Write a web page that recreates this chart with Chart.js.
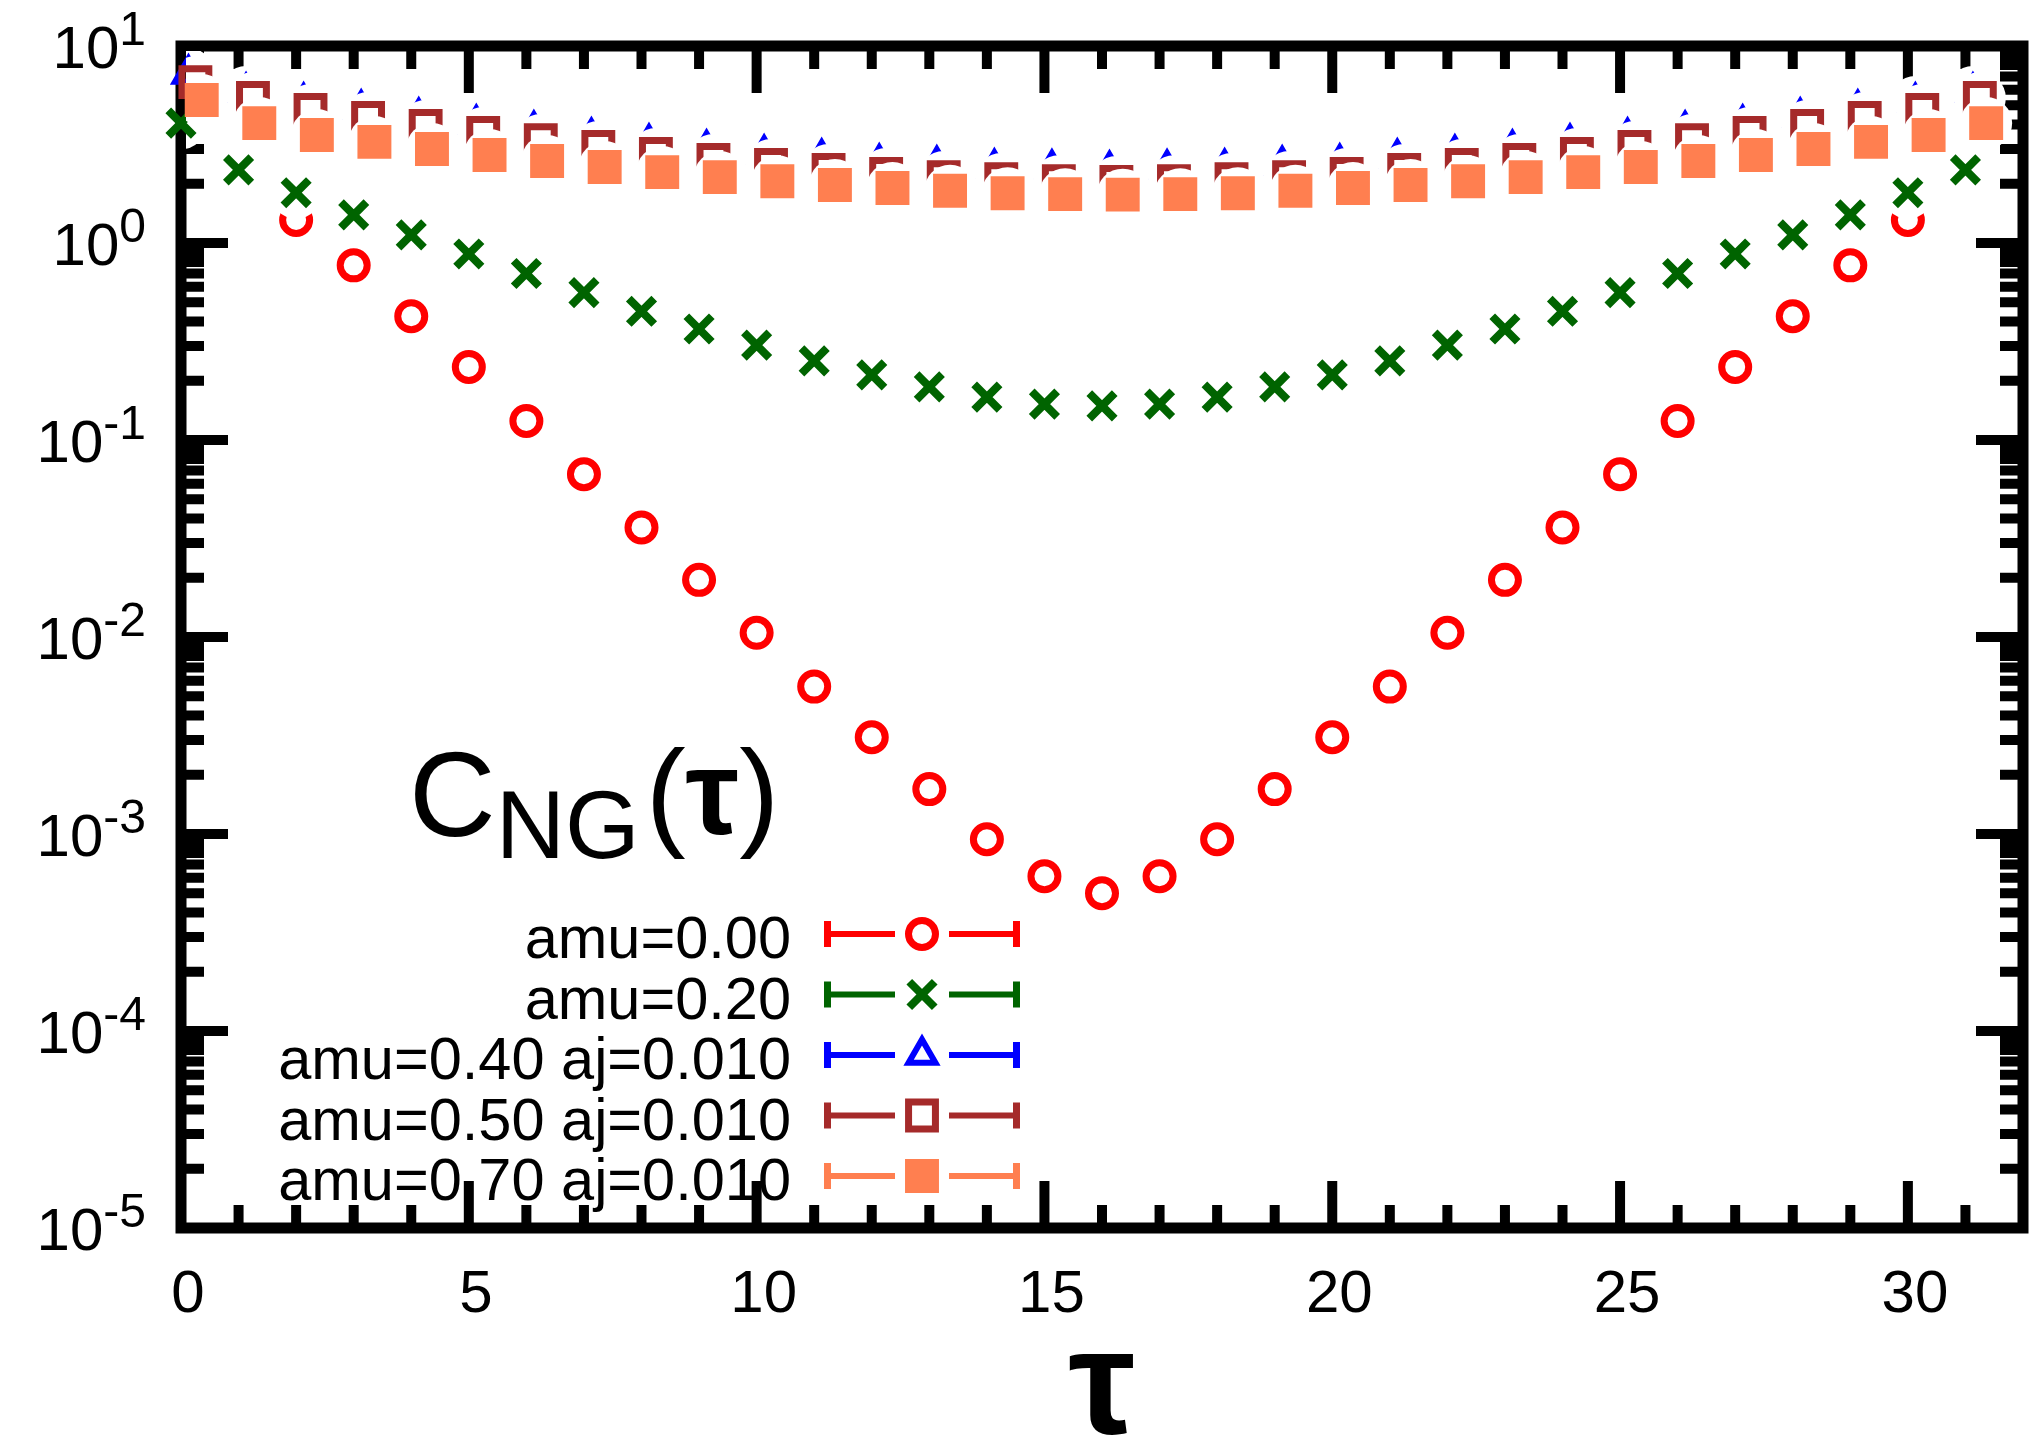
<!DOCTYPE html>
<html lang="en">
<head>
    <meta charset="UTF-8">
    <title>C_NG(tau)</title>
    <script src="https://cdn.jsdelivr.net/npm/chart.js"></script>
    <style>
        html, body { margin: 0; padding: 0; background: #fff; }
        #chartBox { width: 2029px; height: 1435px; }
    </style>
</head>
<body>
    <div id="chartBox">
        <canvas id="corrChart" width="2029" height="1435"></canvas>
    </div>

    <script>
        const FONT = '"Liberation Sans", Arial, Helvetica, sans-serif';

        // time slices
        const tau = [0, 1, 2, 3, 4, 5, 6, 7, 8, 9, 10, 11, 12, 13, 14, 15,
                     16, 17, 18, 19, 20, 21, 22, 23, 24, 25, 26, 27, 28, 29, 30, 31];

        // C_NG(tau) for each mass (null = not plotted)
        const cAmu000 = [null, null, 1.31, 0.77, 0.425, 0.235, 0.125, 0.067, 0.036, 0.0195, 0.0105, 0.0056,
                         0.0031, 0.00169, 0.00094, 0.00061, 0.00050, 0.00061, 0.00094, 0.00169, 0.0031,
                         0.0056, 0.0105, 0.0195, 0.036, 0.067, 0.125, 0.235, 0.425, 0.77, 1.31, null];
        const cAmu020 = [4.06, 2.35, 1.80, 1.39, 1.10, 0.88, 0.70, 0.56, 0.45, 0.366, 0.303, 0.252,
                         0.214, 0.186, 0.165, 0.152, 0.149, 0.152, 0.165, 0.186, 0.214, 0.252, 0.303,
                         0.366, 0.45, 0.56, 0.70, 0.88, 1.10, 1.39, 1.80, 2.35];
        const cAmu040 = [7.2, 5.84, 5.20, 4.79, 4.36, 4.02, 3.75, 3.45, 3.22, 3.00, 2.83, 2.70,
                         2.55, 2.49, 2.40, 2.38, 2.35, 2.38, 2.40, 2.49, 2.55, 2.70, 2.83, 3.00,
                         3.22, 3.45, 3.75, 4.02, 4.36, 4.79, 5.20, 5.84];
        const cAmu050 = [6.56, 5.45, 4.73, 4.31, 3.93, 3.62, 3.33, 3.07, 2.83, 2.64, 2.49, 2.35,
                         2.24, 2.16, 2.11, 2.06, 2.04, 2.06, 2.11, 2.16, 2.24, 2.35, 2.49, 2.64,
                         2.83, 3.07, 3.33, 3.62, 3.93, 4.31, 4.73, 5.45];
        const cAmu070 = [5.32, 4.06, 3.53, 3.26, 3.00, 2.80, 2.61, 2.43, 2.29, 2.16, 2.06, 1.97,
                         1.90, 1.84, 1.79, 1.77, 1.76, 1.77, 1.79, 1.84, 1.90, 1.97, 2.06, 2.16,
                         2.29, 2.43, 2.61, 2.80, 3.00, 3.26, 3.53, 4.06];

        const seriesLabels = ['amu=0.00', 'amu=0.20', 'amu=0.40 aj=0.010',
                              'amu=0.50 aj=0.010', 'amu=0.70 aj=0.010'];
        const xTickLabels = [0, 5, 10, 15, 20, 25, 30];
        const yDecades = [-5, -4, -3, -2, -1, 0, 1];

        const HALO = 26;

        function makeSet(label, values, shift, style) {
            return Object.assign({
                label: label,
                data: tau.map((t, i) => ({x: t + shift, y: values[i]})).filter(p => p.y !== null),
                showLine: false,
                clip: false
            }, style);
        }

        const datasets = [
            makeSet(seriesLabels[0], cAmu000, 0, {
                pointStyle: 'circle', pointRadius: 13.5, pointBorderWidth: 7,
                pointBorderColor: '#ff0000', pointBackgroundColor: 'rgba(0,0,0,0)', order: 4
            }),
            makeSet(seriesLabels[1], cAmu020, 0, {
                pointStyle: 'crossRot', pointRadius: 18, pointBorderWidth: 8,
                pointBorderColor: '#006400', pointBackgroundColor: 'rgba(0,0,0,0)', order: 3
            }),
            makeSet(seriesLabels[2], cAmu040, 0.13, {
                pointStyle: 'triangle', pointRadius: 15.5, pointBorderWidth: 6,
                pointBorderColor: '#0000ff', pointBackgroundColor: 'rgba(0,0,0,0)', order: 2
            }),
            makeSet(seriesLabels[3], cAmu050, 0.25, {
                pointStyle: 'rect', pointRadius: 19, pointBorderWidth: 7,
                pointBorderColor: '#a52a2a', pointBackgroundColor: 'rgba(0,0,0,0)', order: 1
            }),
            makeSet(seriesLabels[4], cAmu070, 0.36, {
                pointStyle: 'rect', pointRadius: 24, pointBorderWidth: 0,
                pointBorderColor: '#ff7f50', pointBackgroundColor: '#ff7f50', order: 0
            })
        ];

        // white page behind everything
        const background = {
            id: 'background',
            beforeDraw(chart) {
                const ctx = chart.ctx;
                ctx.save();
                ctx.fillStyle = '#fff';
                ctx.fillRect(0, 0, chart.width, chart.height);
                ctx.restore();
            }
        };

        // border with inward tics on all four sides
        const frame = {
            id: 'frame',
            beforeDatasetsDraw(chart) {
                const {ctx, chartArea: a, scales: {x, y}} = chart;
                ctx.save();
                ctx.strokeStyle = '#000';
                ctx.lineCap = 'butt';
                ctx.lineWidth = 10;
                ctx.beginPath();
                for (let t = 1; t < x.max; t++) {
                    const px = x.getPixelForValue(t);
                    const len = t % 5 === 0 ? 47 : 23;
                    ctx.moveTo(px, a.bottom); ctx.lineTo(px, a.bottom - len);
                    ctx.moveTo(px, a.top); ctx.lineTo(px, a.top + len);
                }
                yDecades.forEach(e => {
                    for (let m = 1; m <= 9; m++) {
                        const v = m * Math.pow(10, e);
                        if (v > y.max) break;
                        const py = y.getPixelForValue(v);
                        const len = m === 1 ? 47 : 23;
                        ctx.moveTo(a.left, py); ctx.lineTo(a.left + len, py);
                        ctx.moveTo(a.right, py); ctx.lineTo(a.right - len, py);
                    }
                });
                ctx.stroke();
                ctx.lineWidth = 11;
                ctx.strokeRect(a.left, a.top, a.right - a.left, a.bottom - a.top);
                ctx.restore();
            }
        };

        // blank a disc behind each point (inside the border only)
        const halo = {
            id: 'halo',
            beforeDatasetDraw(chart, args) {
                const {ctx, chartArea: a} = chart;
                ctx.save();
                ctx.beginPath();
                ctx.rect(a.left + 5, a.top + 5, a.right - a.left - 10, a.bottom - a.top - 10);
                ctx.clip();
                ctx.fillStyle = '#fff';
                args.meta.data.forEach(pt => {
                    if (pt.skip) return;
                    ctx.beginPath();
                    ctx.arc(pt.x, pt.y, HALO, 0, 2 * Math.PI);
                    ctx.fill();
                });
                ctx.restore();
            }
        };

        // draws "(τ)" with a heavier tau
        function drawTauGroup(ctx, x, baseline, size) {
            ctx.font = `${size}px ${FONT}`;
            ctx.fillText('(', x, baseline);
            x += ctx.measureText('(').width;
            ctx.font = `bold ${size}px ${FONT}`;
            ctx.fillText('τ', x, baseline);
            x += ctx.measureText('τ').width;
            ctx.font = `${size}px ${FONT}`;
            ctx.fillText(')', x, baseline);
        }

        // tick labels, key, caption and axis title
        const annotations = {
            id: 'annotations',
            afterDraw(chart) {
                const {ctx, chartArea: a, scales: {x, y}} = chart;
                ctx.save();
                ctx.fillStyle = '#000';
                ctx.textBaseline = 'alphabetic';

                ctx.textAlign = 'center';
                ctx.font = `60px ${FONT}`;
                xTickLabels.forEach(t => {
                    ctx.fillText(String(t), x.getPixelForValue(t) + 7, 1312);
                });

                ctx.textAlign = 'left';
                yDecades.forEach(e => {
                    const py = y.getPixelForValue(Math.pow(10, e));
                    const exp = String(e);
                    ctx.font = `60px ${FONT}`;
                    const wb = ctx.measureText('10').width;
                    ctx.font = `48px ${FONT}`;
                    const we = ctx.measureText(exp).width;
                    ctx.font = `60px ${FONT}`;
                    ctx.fillText('10', 146 - we - wb, py + 22);
                    ctx.font = `48px ${FONT}`;
                    ctx.fillText(exp, 146 - we, py - 1);
                });

                // key: label, then error-bar sample with the point marker
                const drawPoint = Chart.helpers.drawPoint;
                chart.data.datasets.forEach((ds, i) => {
                    const ry = 934 + 60.5 * i;
                    ctx.font = `59.5px ${FONT}`;
                    ctx.textAlign = 'right';
                    ctx.fillStyle = '#000';
                    ctx.fillText(ds.label, 791, ry + 24);

                    ctx.strokeStyle = ds.pointBorderColor;
                    ctx.lineWidth = 6;
                    ctx.beginPath();
                    ctx.moveTo(824, ry); ctx.lineTo(895, ry);
                    ctx.moveTo(949, ry); ctx.lineTo(1020, ry);
                    ctx.stroke();
                    ctx.lineWidth = 7;
                    ctx.beginPath();
                    ctx.moveTo(827.5, ry - 13); ctx.lineTo(827.5, ry + 13);
                    ctx.moveTo(1016.5, ry - 13); ctx.lineTo(1016.5, ry + 13);
                    ctx.stroke();

                    ctx.fillStyle = ds.pointBackgroundColor;
                    ctx.strokeStyle = ds.pointBorderColor;
                    ctx.lineWidth = ds.pointBorderWidth;
                    drawPoint(ctx, {
                        pointStyle: ds.pointStyle, rotation: 0,
                        radius: ds.pointRadius, borderWidth: ds.pointBorderWidth
                    }, 922, ry);
                });

                // C_NG(tau) caption
                ctx.fillStyle = '#000';
                ctx.textAlign = 'left';
                let cx = 409;
                ctx.font = `120px ${FONT}`;
                ctx.fillText('C', cx, 836);
                cx += ctx.measureText('C').width;
                ctx.font = `96px ${FONT}`;
                ctx.fillText('NG', cx, 858);
                cx += ctx.measureText('NG').width + 6;
                drawTauGroup(ctx, cx, 834, 120);

                // x axis title
                ctx.textAlign = 'center';
                ctx.font = `bold 150px ${FONT}`;
                ctx.fillText('τ', (a.left + a.right) / 2, 1433);
                ctx.restore();
            }
        };

        new Chart(document.getElementById('corrChart'), {
            type: 'scatter',
            data: { datasets: datasets },
            options: {
                responsive: false,
                devicePixelRatio: 1,
                animation: false,
                layout: {
                    autoPadding: false,
                    padding: { left: 0, right: 6, top: 46, bottom: 0 }
                },
                plugins: {
                    legend: { display: false },
                    tooltip: { enabled: false },
                    title: { display: false }
                },
                scales: {
                    x: {
                        type: 'linear',
                        min: 0,
                        max: 32,
                        grid: { display: false, drawTicks: false },
                        border: { display: false },
                        ticks: { display: false },
                        afterFit: scale => { scale.height = 207; }
                    },
                    y: {
                        type: 'logarithmic',
                        min: 1e-5,
                        max: 10,
                        grid: { display: false, drawTicks: false },
                        border: { display: false },
                        ticks: { display: false },
                        afterFit: scale => { scale.width = 181; }
                    }
                }
            },
            plugins: [background, frame, halo, annotations]
        });
    </script>
</body>
</html>
